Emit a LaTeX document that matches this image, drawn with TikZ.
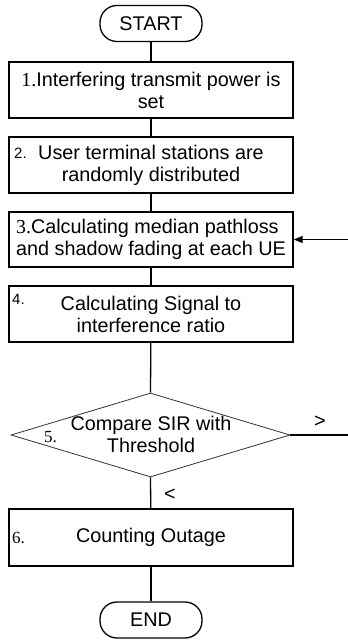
\documentclass[tikz,border=0pt]{standalone}
\usepackage{fontspec}
\setmainfont{Liberation Sans}
\newfontfamily\numserif{Liberation Serif}
\usetikzlibrary{shapes.geometric,arrows.meta}
\begin{document}
\begin{tikzpicture}[x=1pt,y=-1pt,
  every node/.style={font=\fontsize{19.8}{22}\selectfont, inner sep=0pt},
  procbox/.style={draw, line width=1.3pt, minimum width=284pt, minimum height=56pt, align=center},
  terminal/.style={draw, line width=1.3pt, rounded corners=17pt, minimum width=102pt, minimum height=36pt},
  flow/.style={line width=1.3pt},
  numlabel/.style={font=\fontsize{17}{19}\selectfont\numserif, anchor=west},
  smallnum/.style={font=\fontsize{15}{17}\selectfont, anchor=west}]
\useasboundingbox (0,0) rectangle (348,640);
\node[terminal] (start) at (151,23.5) {START};
\node[procbox] (b1) at (151,90) {{\numserif 1.}Interfering transmit power is\hspace{17pt}\\set};
\node[procbox] (b2) at (151,165) {User terminal stations are\\randomly distributed};
\node[smallnum] (n2) at (14,153) {2.};
\node[procbox, minimum height=55pt, align=left] (b3) at (151,239.5) {{\numserif 3.}Calculating median pathloss\\and shadow fading at each UE};
\node[procbox] (b4) at (151,314) {Calculating Signal to\\interference ratio};
\node[smallnum] (n4) at (12,299.5) {4.};
\node[diamond, draw, line width=0.8pt, draw=black!80, minimum width=279pt, minimum height=84pt, aspect=3.3] (d) at (150.5,435) {};
\node[align=center] (dt) at (151,434.5) {Compare SIR with\\Threshold};
\node[numlabel] (n5) at (44,437) {5.};
\node[procbox, minimum height=57pt] (b6) at (151,537.5) {Counting Outage};
\node[numlabel] (n6) at (12,538) {6.};
\node[terminal] (end) at (151,620) {END};
\coordinate (gt) at (348,435);
\coordinate (inarrow) at (348,239.5);
\node (gtl) at (320,422) {>};
\node (ltl) at (170,495) {<};
\draw[flow] (start) -- (b1);
\draw[flow] (b1) -- (b2);
\draw[flow] (b2) -- (b3);
\draw[flow] (b3) -- (b4);
\draw[flow] (b4) -- (d.north);
\draw[flow] (d.south) -- (b6);
\draw[flow] (b6) -- (end);
\draw[flow] (d.east) -- (gt);
\draw[flow, -{Triangle[length=9pt,width=7pt]}] (inarrow) -- (b3.east);
\end{tikzpicture}
\end{document}
